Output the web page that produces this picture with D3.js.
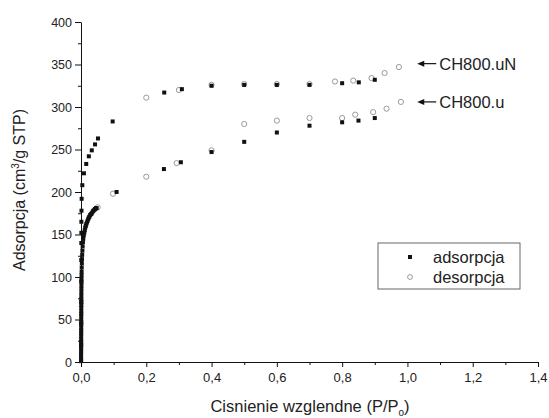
<!DOCTYPE html>
<html>
<head>
<meta charset="utf-8">
<script src="https://cdn.jsdelivr.net/npm/d3@7"></script>
<style>
  body { margin: 0; background: #fff; }
  text { font-family: "Liberation Sans", Arial, sans-serif; fill: #222; }
  .axis path, .axis line { stroke: #111; }
</style>
</head>
<body>
<svg width="549" height="418"></svg>
<script>
// ticks
const xTicks = [0, 0.2, 0.4, 0.6, 0.8, 1.0, 1.2, 1.4];
const yTicks = [0, 50, 100, 150, 200, 250, 300, 350, 400];

// CH800.uN (upper isotherm)
const uNAdsX = [0.0005, 0.0006, 0.0007, 0.0008, 0.0009, 0.001, 0.0011, 0.0012, 0.0015, 0.002, 0.004, 0.009, 0.016, 0.024, 0.033, 0.043, 0.052, 0.097, 0.255, 0.309, 0.4, 0.5, 0.6, 0.7, 0.8, 0.851, 0.9];
const uNAdsY = [20, 45, 70, 95, 120, 140, 152, 165, 178, 192, 208, 222, 233, 242, 249, 256, 263, 283, 317, 321, 325, 326, 326, 326, 328, 329, 332];
const uNDesX = [0.2, 0.3, 0.4, 0.5, 0.6, 0.7, 0.778, 0.834, 0.89, 0.93, 0.974];
const uNDesY = [311, 320, 326, 327, 327, 327, 330, 331, 334, 340, 347];

// CH800.u (lower isotherm), dense near zero pressure
const uAdsX = [0.0003, 0.0003, 0.0003, 0.0003, 0.0004, 0.0004, 0.0004, 0.0004, 0.0005, 0.0005, 0.0005, 0.0005, 0.0006, 0.0006, 0.0006, 0.0007, 0.0007, 0.0007, 0.0008, 0.0008, 0.0008, 0.0009, 0.0009, 0.001, 0.001, 0.0011, 0.0012, 0.0013, 0.0014, 0.0015, 0.0017, 0.0019, 0.0022, 0.0026, 0.003, 0.0036, 0.0043, 0.005, 0.006, 0.007, 0.0085, 0.01, 0.0115, 0.013, 0.0145, 0.016, 0.018, 0.02, 0.022, 0.024, 0.026, 0.028, 0.031, 0.033, 0.036, 0.038, 0.041, 0.043, 0.046, 0.048, 0.109, 0.254, 0.306, 0.4, 0.5, 0.6, 0.7, 0.8, 0.85, 0.9];
const uAdsY = [1, 3, 6, 9, 12, 15, 18, 21, 24, 27, 31, 34, 37, 40, 44, 47, 50, 54, 57, 60, 64, 67, 71, 74, 78, 82, 86, 90, 94, 98, 102, 106, 111, 116, 121, 126, 131, 136, 141, 145, 149, 152, 155, 158, 160, 162, 164, 166, 168, 170, 171, 173, 174, 175, 177, 178, 179, 180, 181, 181, 200, 227, 235, 247, 259, 270, 278, 282, 284, 287];
const uDesX = [0.051, 0.098, 0.2, 0.293, 0.4, 0.5, 0.6, 0.7, 0.8, 0.84, 0.895, 0.936, 0.98];
const uDesY = [182, 198, 218, 234, 249, 280, 284, 287, 287, 291, 294, 298, 306];

const labels = ["CH800.uN", "CH800.u"];
const labelPos = [[1.03, 351], [1.03, 306]];
const legendNames = ["adsorpcja", "desorpcja"];

const svg = d3.select("svg");
const x = d3.scaleLinear().domain([0, 1.4]).range([81, 538]);
const y = d3.scaleLinear().domain([0, 400]).range([362, 22]);
const fmt = (d) => d3.format(".1f")(d).replace(".", ",");

// minor ticks first, majors on top
svg.append("g").attr("class", "axis").attr("transform", "translate(0,362)")
  .call(d3.axisBottom(x).tickValues(d3.range(0.1, 1.4, 0.2)).tickSize(3).tickFormat(""))
  .call((g) => g.select(".domain").remove());
svg.append("g").attr("class", "axis").attr("transform", "translate(81,0)")
  .call(d3.axisLeft(y).tickValues(d3.range(25, 400, 50)).tickSize(3).tickFormat(""))
  .call((g) => g.select(".domain").remove());

svg.append("g").attr("class", "axis").attr("transform", "translate(0,362)")
  .call(d3.axisBottom(x).tickValues(xTicks).tickSize(5).tickSizeOuter(0).tickPadding(6).tickFormat(fmt))
  .call((g) => g.selectAll("text").style("font-size", "13px"));
svg.append("g").attr("class", "axis").attr("transform", "translate(81,0)")
  .call(d3.axisLeft(y).tickValues(yTicks).tickSize(6).tickSizeOuter(0).tickPadding(3))
  .call((g) => g.selectAll("text").style("font-size", "12.5px"));

// axis titles
const xt = svg.append("text").attr("x", 310).attr("y", 412).attr("text-anchor", "middle")
  .style("font-size", "16.5px").text("Cisnienie wzglendne (P/P");
xt.append("tspan").attr("dy", 4).style("font-size", "10px").text("o");
xt.append("tspan").attr("dy", -4).text(")");

const yt = svg.append("text").attr("transform", "translate(25,190) rotate(-90)")
  .attr("text-anchor", "middle").style("font-size", "16px").text("Adsorpcja (cm");
yt.append("tspan").attr("dy", -6).style("font-size", "10px").text("3");
yt.append("tspan").attr("dy", 6).text("/g STP)");

const pairs = (xs, ys) => xs.map((d, i) => [d, ys[i]]);
const pts = svg.append("g");

// desorption: open circles
[pairs(uNDesX, uNDesY), pairs(uDesX, uDesY)].forEach((data) => {
  pts.append("g").selectAll("circle").data(data).enter().append("circle")
    .attr("cx", (d) => x(d[0])).attr("cy", (d) => y(d[1])).attr("r", 2.6)
    .attr("fill", "#fff").attr("stroke", "#9a9a9a").attr("stroke-width", 1);
});

// adsorption: filled squares
[pairs(uNAdsX, uNAdsY), pairs(uAdsX, uAdsY)].forEach((data) => {
  pts.append("g").selectAll("rect").data(data).enter().append("rect")
    .attr("x", (d) => x(d[0]) - 2).attr("y", (d) => y(d[1]) - 2)
    .attr("width", 4).attr("height", 4).attr("fill", "#111");
});

// series labels with arrows
labels.forEach((t, i) => {
  const lx = x(labelPos[i][0]), ly = y(labelPos[i][1]);
  svg.append("line").attr("x1", lx + 4).attr("x2", lx + 19).attr("y1", ly).attr("y2", ly)
    .attr("stroke", "#111").attr("stroke-width", 1.2);
  svg.append("path").attr("d", `M${lx},${ly}l7,-3l0,6z`).attr("fill", "#111");
  svg.append("text").attr("x", lx + 22).attr("y", ly).attr("dy", "0.36em")
    .style("font-size", "16.5px").text(t);
});

// legend
const lg = svg.append("g").attr("transform", "translate(378,243)");
lg.append("rect").attr("width", 142).attr("height", 46).attr("fill", "#fff")
  .attr("stroke", "#666").attr("stroke-width", 1);
legendNames.forEach((n, i) => {
  const cy = 14 + i * 20;
  if (i === 0) {
    lg.append("rect").attr("x", 30).attr("y", cy - 2).attr("width", 4).attr("height", 4).attr("fill", "#111");
  } else {
    lg.append("circle").attr("cx", 32).attr("cy", cy).attr("r", 2.4)
      .attr("fill", "#fff").attr("stroke", "#9a9a9a");
  }
  lg.append("text").attr("x", 55).attr("y", cy).attr("dy", "0.36em")
    .style("font-size", "16.5px").text(n);
});
</script>
</body>
</html>
